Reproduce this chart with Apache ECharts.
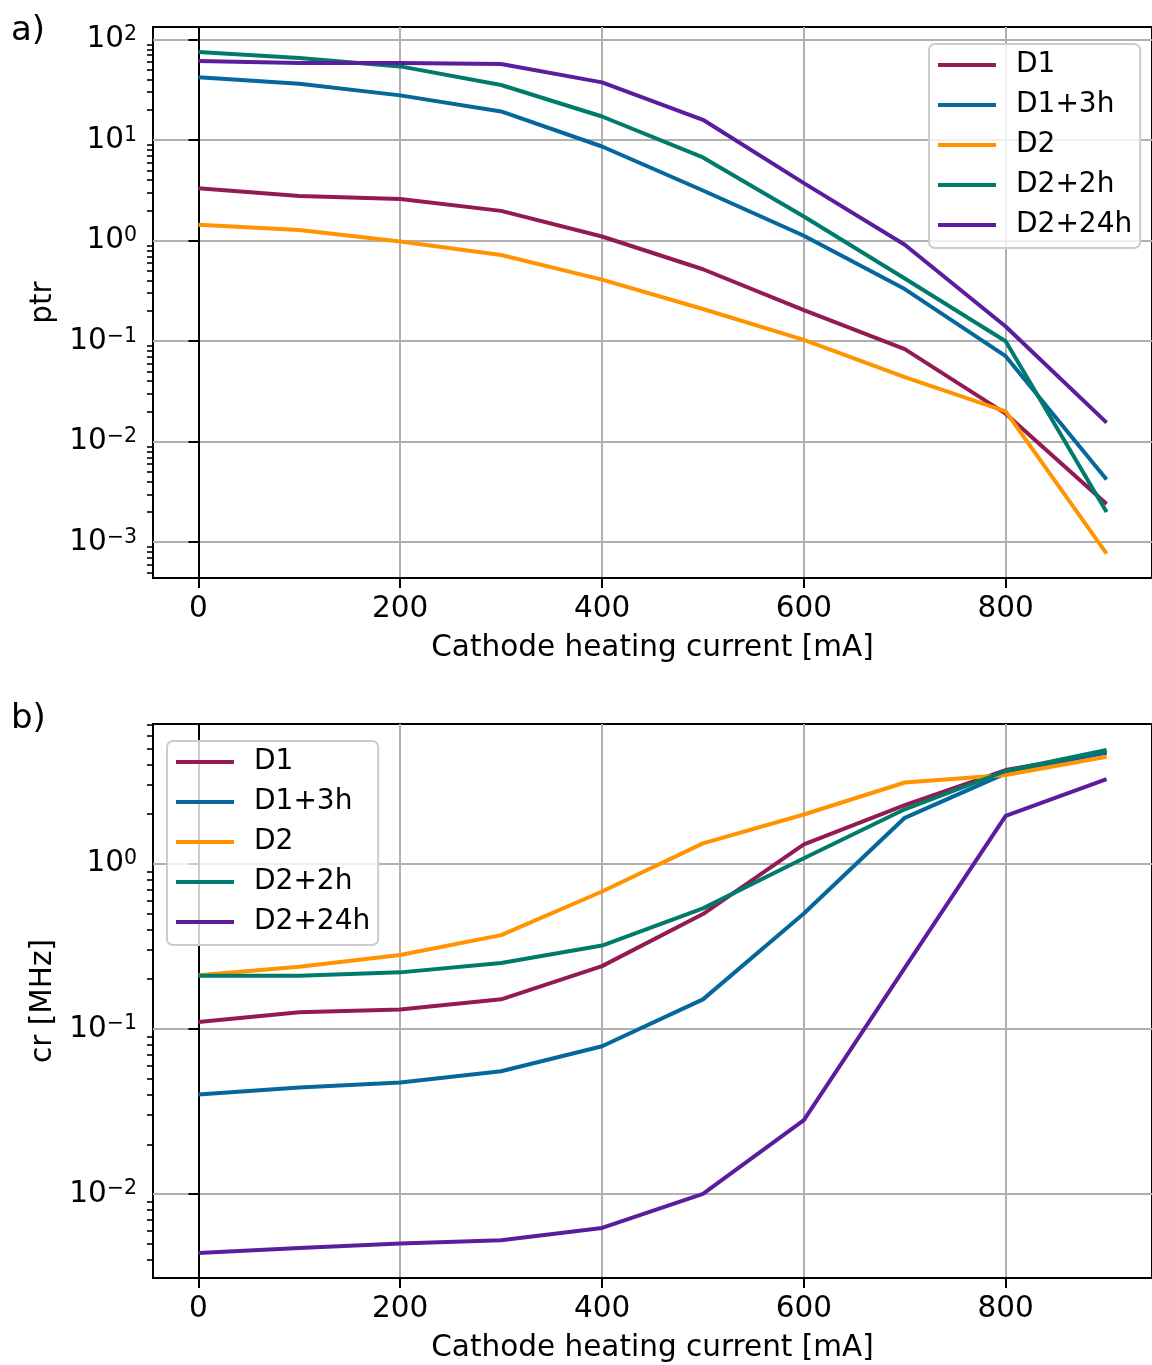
<!DOCTYPE html>
<html>
<head>
<meta charset="utf-8">
<script src="https://cdn.jsdelivr.net/npm/echarts@6/dist/echarts.min.js"></script>
<style>
  html, body { margin: 0; padding: 0; background: #ffffff; }
  #chart { width: 1152px; height: 1365px; }
</style>
</head>
<body>
<div id="chart"></div>
<script>
// Cathode heating current [mA]
const current = [0, 100, 200, 300, 400, 500, 600, 700, 800, 900];
const seriesNames = ['D1', 'D1+3h', 'D2', 'D2+2h', 'D2+24h'];

// panel a) ptr
const ptrD1     = [3.33, 2.79, 2.6, 1.98, 1.1, 0.52, 0.204, 0.0835, 0.019, 0.0024];
const ptrD1_3h  = [42.2, 36.5, 27.9, 19.3, 8.65, 3.16, 1.12, 0.33, 0.071, 0.0042];
const ptrD2     = [1.44, 1.28, 0.98, 0.72, 0.41, 0.209, 0.103, 0.044, 0.020, 0.00077];
const ptrD2_2h  = [75.4, 65.8, 54.2, 35.4, 17.2, 6.73, 1.74, 0.42, 0.1, 0.0020];
const ptrD2_24h = [61.4, 58.6, 58.6, 57.3, 37.6, 15.96, 3.74, 0.91, 0.14, 0.0155];

// panel b) cr [MHz]
const crD1     = [0.11, 0.126, 0.131, 0.151, 0.24, 0.496, 1.31, 2.27, 3.70, 4.71];
const crD1_3h  = [0.040, 0.0441, 0.0473, 0.0554, 0.0785, 0.151, 0.50, 1.90, 3.53, 4.73];
const crD2     = [0.211, 0.238, 0.28, 0.37, 0.68, 1.33, 1.99, 3.11, 3.45, 4.45];
const crD2_2h  = [0.21, 0.21, 0.22, 0.251, 0.32, 0.537, 1.08, 2.14, 3.65, 4.89];
const crD2_24h = [0.00439, 0.00471, 0.00501, 0.00525, 0.00623, 0.01, 0.028, 0.234, 1.95, 3.26];

// tick values
const xTicks = [0, 200, 400, 600, 800];
const ptrDecades = [0.001, 0.01, 0.1, 1, 10, 100];
const crDecades = [0.01, 0.1, 1];

const colors = ['#931b53', '#06679c', '#ff9400', '#007b6b', '#5b1d9d'];
const FONT = 'DejaVu Sans';
const FS = 29.5;

// axis extents (log axes padded by 5% of the decade span)
const xMin = -45, xMax = 945;
const ptrMin = Math.pow(10, -3.356), ptrMax = Math.pow(10, 2.126);
const crMin = Math.pow(10, -2.509), crMax = Math.pow(10, 0.847);

function minorTicks(lo, hi) {
  const out = [];
  for (let k = -5; k <= 3; k++) {
    for (let m = 2; m <= 9; m++) {
      const v = m * Math.pow(10, k);
      if (v > lo && v < hi) out.push(v);
    }
  }
  return out;
}

function powLabel(v) {
  const e = Math.round(Math.log10(v));
  const s = e < 0 ? '\u2212' + (-e) : String(e);
  return '{b|10}{s|' + s + '}';
}

const labelRich = {
  b: { fontSize: FS, fontFamily: FONT, color: '#000', lineHeight: 31 },
  s: { fontSize: 20.5, fontFamily: FONT, color: '#000', lineHeight: 18, verticalAlign: 'top' }
};

function xAxisDef(gridIndex) {
  return {
    gridIndex, type: 'value', min: xMin, max: xMax,
    name: 'Cathode heating current [mA]', nameLocation: 'middle', nameGap: 55,
    nameTextStyle: { fontSize: FS, fontFamily: FONT, color: '#000' },
    axisLine: { show: true, lineStyle: { color: '#000', width: 2 } },
    axisTick: { show: true, inside: false, length: 10, customValues: xTicks, lineStyle: { color: '#000', width: 2 } },
    axisLabel: { show: true, customValues: xTicks, fontSize: FS, fontFamily: FONT, color: '#000', margin: 16 },
    splitLine: { show: true, lineStyle: { color: '#b0b0b0', width: 2 } }
  };
}

function yMajorDef(gridIndex, lo, hi, decades, name) {
  return {
    gridIndex, type: 'log', logBase: 10, min: lo, max: hi, position: 'left',
    name, nameLocation: 'middle', nameGap: 94,
    nameTextStyle: { fontSize: FS, fontFamily: FONT, color: '#000' },
    axisLine: { show: true, lineStyle: { color: '#000', width: 2 } },
    axisTick: { show: true, inside: false, length: 10, customValues: decades, lineStyle: { color: '#000', width: 2 } },
    axisLabel: { show: true, customValues: decades, formatter: powLabel, rich: labelRich, margin: 16 },
    splitLine: { show: true, lineStyle: { color: '#b0b0b0', width: 2 } }
  };
}

function yMinorDef(gridIndex, lo, hi) {
  return {
    gridIndex, type: 'log', logBase: 10, min: lo, max: hi, position: 'left',
    axisLine: { show: false },
    axisTick: { show: true, inside: false, length: 6, customValues: minorTicks(lo, hi), lineStyle: { color: '#000', width: 1.6 } },
    axisLabel: { show: false },
    splitLine: { show: false }
  };
}

function lines(arrays, xAxisIndex, yAxisIndex) {
  return arrays.map((vals, i) => ({
    name: seriesNames[i], type: 'line', xAxisIndex, yAxisIndex,
    data: current.map((x, j) => [x, vals[j]]),
    showSymbol: false, symbol: 'none',
    lineStyle: { color: colors[i], width: 4 },
    itemStyle: { color: colors[i] },
    emphasis: { disabled: true }
  }));
}

function legendDef(left, top) {
  return {
    orient: 'vertical', left, top,
    data: seriesNames, selectedMode: false,
    icon: 'rect', itemWidth: 58, itemHeight: 4, itemGap: 10,
    textStyle: { fontSize: 28, fontFamily: FONT, color: '#000', lineHeight: 30, padding: [0, 0, 0, 15] },
    backgroundColor: 'rgba(255,255,255,0.8)',
    borderColor: '#cccccc', borderWidth: 2, borderRadius: 6,
    padding: [6, 8, 8, 9]
  };
}

const chart = echarts.init(document.getElementById('chart'), null, { renderer: 'canvas' });
chart.setOption({
  animation: false,
  backgroundColor: '#ffffff',
  color: colors,
  textStyle: { fontFamily: FONT },
  title: [
    { text: 'a)', left: 6, top: 9, textStyle: { fontSize: 34, fontWeight: 'normal', fontFamily: FONT, color: '#000' } },
    { text: 'b)', left: 6, top: 697, textStyle: { fontSize: 34, fontWeight: 'normal', fontFamily: FONT, color: '#000' } }
  ],
  grid: [
    { left: 153, top: 27, width: 999, height: 551, show: true, borderColor: '#000', borderWidth: 2, backgroundColor: 'transparent', containLabel: false },
    { left: 153, top: 724, width: 999, height: 554, show: true, borderColor: '#000', borderWidth: 2, backgroundColor: 'transparent', containLabel: false }
  ],
  xAxis: [xAxisDef(0), xAxisDef(1)],
  yAxis: [
    yMajorDef(0, ptrMin, ptrMax, ptrDecades, 'ptr'),
    yMinorDef(0, ptrMin, ptrMax),
    yMajorDef(1, crMin, crMax, crDecades, 'cr [MHz]'),
    yMinorDef(1, crMin, crMax)
  ],
  legend: [legendDef(929, 44), legendDef(167, 741)],
  series: [
    ...lines([ptrD1, ptrD1_3h, ptrD2, ptrD2_2h, ptrD2_24h], 0, 0),
    ...lines([crD1, crD1_3h, crD2, crD2_2h, crD2_24h], 1, 2)
  ]
});
</script>
</body>
</html>
